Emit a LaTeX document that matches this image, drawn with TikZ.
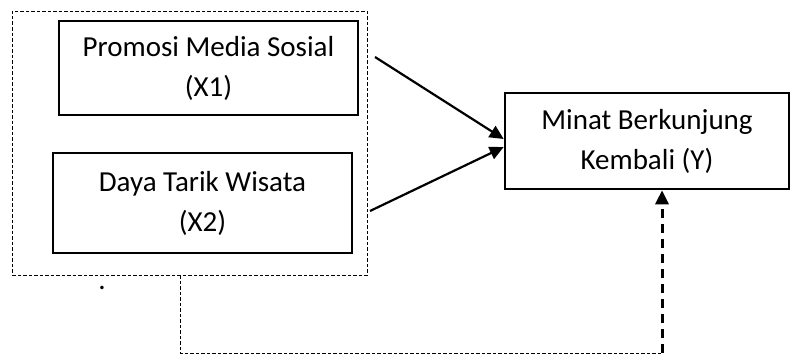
\documentclass[tikz,border=0pt]{standalone}
\usepackage{fontspec}
\setmainfont{Carlito}
\usetikzlibrary{arrows.meta}

\begin{document}
\begin{tikzpicture}[
    x=1pt, y=-1pt,
    every node/.style={font=\fontsize{29}{40}\selectfont}, % Schrift der Knoten
    var/.style={draw, line width=2.6pt, align=center, inner sep=0pt}, % Stil der Variablen
    link/.style={line width=2.2pt, -{Triangle[length=14pt, width=13pt]}}, % Stil der Pfeile
    group/.style={draw, line width=0.9pt, dash pattern=on 3.5pt off 2pt}, % Stil der Gruppe
    back/.style={line width=3pt, dash pattern=on 9pt off 6pt, -{Triangle[length=14pt, width=13pt]}} % Stil des Rueckpfeils
]
\useasboundingbox (0,0) rectangle (791,356);

% Gruppe X1 + X2
\node[group, minimum width=355pt, minimum height=264pt] (grp) at (189.5,143) {};

% Variablen
\node[var, minimum width=299pt, minimum height=94pt] (x1) at (208.5,68) {Promosi Media Sosial\\(X1)};
\node[var, minimum width=299pt, minimum height=100pt] (x2) at (202.5,203) {Daya Tarik Wisata\\(X2)};
\node[var, minimum width=284pt, minimum height=96pt] (y) at (647,141) {Minat Berkunjung\\Kembali (Y)};

\node[inner sep=0pt] (dot) at (102,288) {.};

% Pfeile
\coordinate (a1) at (375,57);
\coordinate (a2) at (370,211);
\draw[link] (a1) -- (y.west |- 0,139);
\draw[link] (a2) -- (y.west |- 0,147);

% Rueckkopplung
\coordinate (c1) at (180,353);
\coordinate (c2) at (662,353);
\draw[group] (grp.south -| c1) -- (c1) -- (c2);
\draw[back] (c2) -- (y.south -| c2);

\end{tikzpicture}
\end{document}
